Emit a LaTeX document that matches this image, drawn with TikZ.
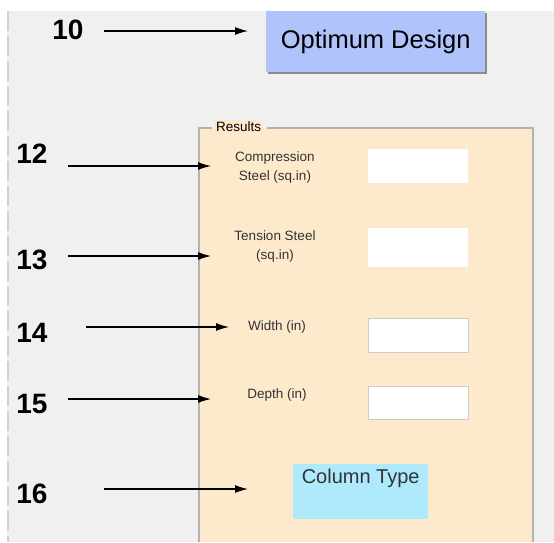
\documentclass[tikz,border=0pt]{standalone}
\usepackage{fontspec}
\setmainfont{Liberation Sans}
\usetikzlibrary{arrows.meta}
\definecolor{panelgray}{HTML}{F0F0F0}
\definecolor{resbg}{HTML}{FDE9CC}
\definecolor{btnblue}{HTML}{B0C4FB}
\definecolor{typecyan}{HTML}{AEE9FC}
\tikzset{
  num/.style={font=\fontsize{28}{30}\selectfont\bfseries},
  ptr/.style={line width=1.2pt, -{Latex[length=13pt,width=8pt]}},
  lbl/.style={font=\fontsize{13.5}{19}\selectfont, align=center, text=black!80},
  field/.style={anchor=north west, fill=white, minimum width=100pt, inner sep=0pt},
  boxed/.style={draw=black!20, line width=1pt}
}
\begin{document}
\begin{tikzpicture}[x=1pt,y=-1pt]
\useasboundingbox (0,0) rectangle (554,542);
\fill[panelgray] (7,11) rectangle (554,542);
\draw[black!18, line width=1.5pt, dash pattern=on 20pt off 5pt] (8,11)--(8,542);
% button
\fill[black!45] (268,13) rectangle (487,74);
\node[anchor=north west, fill=btnblue, minimum width=219pt, minimum height=61pt, inner sep=0pt,
  font=\fontsize{25.5}{27}\selectfont] (optbtn) at (266,11) {Optimum Design};
% results panel
\fill[resbg] (199,128) rectangle (533,542);
\draw[black!30, line width=2pt] (199,542)--(199,128)--(212,128);
\draw[black!30, line width=2pt] (267,128)--(533,128)--(533,542);
\node[anchor=west, fill=resbg, inner sep=2pt, font=\fontsize{13.5}{15}\selectfont] (restitle) at (214,127) {Results};
\node[lbl] (compl) at (275,168) {Compression\\Steel (sq.in)};
\node[lbl] (tensl) at (275,247) {Tension Steel\\(sq.in)};
\node[lbl] (widl) at (277,327) {Width (in)};
\node[lbl] (depl) at (277,395) {Depth (in)};
\node[field, minimum height=34pt] (compf) at (368,149) {};
\node[field, minimum height=39pt] (tensf) at (368,228) {};
\node[field, boxed, minimum height=34pt] (widf) at (368,318) {};
\node[field, boxed, minimum height=33pt] (depf) at (368,386) {};
\node[anchor=north west, fill=typecyan, minimum width=135pt, minimum height=55pt, inner sep=0pt,
  label={[anchor=north, inner sep=5pt, text=black!80, font=\fontsize{20}{22}\selectfont]north:Column Type}] (ctype) at (293,464) {};
% numbers
\node[num] (n10) at (68,30) {10};
\node[num] (n12) at (32,154) {12};
\node[num] (n13) at (32,260) {13};
\node[num] (n14) at (32,333) {14};
\node[num] (n15) at (32,404) {15};
\node[num] (n16) at (32,494) {16};
\coordinate (s10) at (104,31);  \coordinate (t10) at (248,31);
\coordinate (s12) at (68,166);  \coordinate (t12) at (211,166);
\coordinate (s13) at (68,256);  \coordinate (t13) at (211,256);
\coordinate (s14) at (86,327);  \coordinate (t14) at (229,327);
\coordinate (s15) at (68,399);  \coordinate (t15) at (211,399);
\coordinate (s16) at (104,489); \coordinate (t16) at (248,489);
\foreach \i in {10,12,13,14,15,16}
  \draw[ptr] (s\i)--(t\i);
\end{tikzpicture}
\end{document}
